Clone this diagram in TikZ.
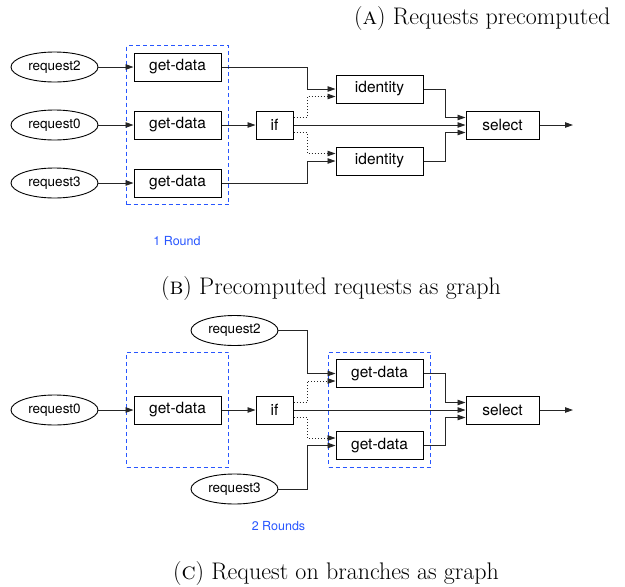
\documentclass[tikz,border=0pt]{standalone}
\usepackage{fontspec}
\usepackage[dvipsnames]{xcolor}
\usepackage{tikz}
\usetikzlibrary{arrows.meta,shapes.geometric,fit}
\newfontfamily\helv{TeX Gyre Heros}
\definecolor{roundblue}{RGB}{40,86,255}
\newcommand{\capfont}{\fontsize{24}{28}\selectfont}

\begin{document}
\begin{tikzpicture}[x=1pt,y=-1pt,
  op/.style={draw, line width=1pt, minimum width=87pt, minimum height=28pt, inner sep=0pt, font=\helv\fontsize{15.5}{18}\selectfont},
  req/.style={draw, ellipse, line width=0.9pt, minimum width=87pt, minimum height=30pt, inner sep=0pt, font=\helv\fontsize{13.5}{16}\selectfont},
  flow/.style={draw=black!85, line width=0.9pt, -{Triangle[length=8pt,width=5.5pt]}},
  guard/.style={flow, dash pattern=on 1pt off 2pt},
  rnd/.style={draw=roundblue, line width=1pt, dash pattern=on 4pt off 3pt, inner sep=7pt},
  rndlabel/.style={text=roundblue, font=\helv\fontsize{12.5}{15}\selectfont}]
\useasboundingbox (0,0) rectangle (625,587);
%
\node[anchor=east] (capA) at (614,19) {\capfont(\textsc{a}) Requests precomputed};
%
\node[req] (r2) at (54.5,67) {request2};
\node[req] (r0) at (54.5,125) {request0};
\node[req] (r3) at (54.5,183) {request3};
\node[op] (g2) at (177.5,67) {get-data};
\node[op] (g0) at (177.5,125) {get-data};
\node[op] (g3) at (177.5,183) {get-data};
\node[op, minimum width=37pt] (if1) at (274.5,125) {if};
\node[op] (id1) at (379.5,89) {identity};
\node[op] (id2) at (379.5,161) {identity};
\node[op, minimum width=73pt] (sel1) at (502.5,125) {select};
\coordinate (out1) at (573,125);
\coordinate (jl) at (307,0);
\coordinate (jr) at (445,0);
%
\node[rnd, fit=(g2)(g3)] (round1) {};
\node[rndlabel] (rl1) at (177,241) {1 Round};
%
\draw[flow] (r2) -- (g2);
\draw[flow] (r0) -- (g0);
\draw[flow] (r3) -- (g3);
\draw[flow] (g0) -- (if1);
\draw[flow] (g2.east) -- (g2.east -| jl) |- (id1.west);
\draw[flow] (g3.east) -- (g3.east -| jl) |- (id2.west);
\draw[guard] ([yshift=7.5pt]if1.east) -- ([yshift=7.5pt]if1.east -| jl) |- ([yshift=-7.5pt]id1.west);
\draw[guard] ([yshift=-7.5pt]if1.east) -- ([yshift=-7.5pt]if1.east -| jl) |- ([yshift=7.5pt]id2.west);
\draw[flow] (if1) -- (sel1);
\draw[flow] (id1.east) -- (id1.east -| jr) |- ([yshift=7.5pt]sel1.west);
\draw[flow] (id2.east) -- (id2.east -| jr) |- ([yshift=-7.5pt]sel1.west);
\draw[flow] (sel1) -- (out1);
%
\node (capB) at (331,289) {\capfont(\textsc{b}) Precomputed requests as graph};
%
\node[req] (r2b) at (234.5,330.5) {request2};
\node[req] (r0b) at (54.5,410) {request0};
\node[req] (r3b) at (234.5,489) {request3};
\node[op] (g0b) at (177.5,410) {get-data};
\node[op, minimum width=37pt] (if2) at (274.5,410) {if};
\node[op] (ga) at (379.5,373.5) {get-data};
\node[op] (gb) at (379.5,445.5) {get-data};
\node[op, minimum width=73pt] (sel2) at (502.5,410) {select};
\coordinate (out2) at (573,410);
%
\node[rnd, fit=(g0b.west |- ga.north)(g0b.east |- gb.south)] (round2a) {};
\node[rnd, fit=(ga)(gb)] (round2b) {};
\node[rndlabel] (rl2) at (278.5,526) {2 Rounds};
%
\draw[flow] (r0b) -- (g0b);
\draw[flow] (g0b) -- (if2);
\draw[flow] (r2b.east) -- (r2b.east -| jl) |- (ga.west);
\draw[flow] (r3b.east) -- (r3b.east -| jl) |- (gb.west);
\draw[guard] ([yshift=7.5pt]if2.east) -- ([yshift=7.5pt]if2.east -| jl) |- ([yshift=-7.5pt]ga.west);
\draw[guard] ([yshift=-7.5pt]if2.east) -- ([yshift=-7.5pt]if2.east -| jl) |- ([yshift=7.5pt]gb.west);
\draw[flow] (if2) -- (sel2);
\draw[flow] (ga.east) -- (ga.east -| jr) |- ([yshift=7.5pt]sel2.west);
\draw[flow] (gb.east) -- (gb.east -| jr) |- ([yshift=-7.5pt]sel2.west);
\draw[flow] (sel2) -- (out2);
%
\node (capC) at (336,574) {\capfont(\textsc{c}) Request on branches as graph};
\end{tikzpicture}
\end{document}
